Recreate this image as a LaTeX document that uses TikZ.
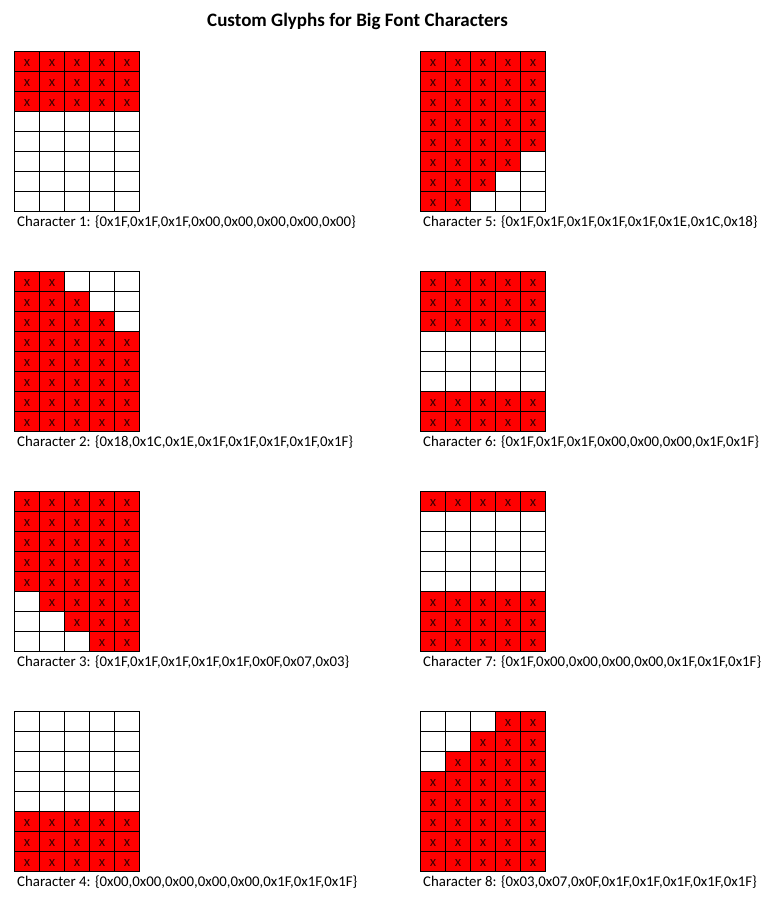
\documentclass[tikz,border=0pt]{standalone}
\usepackage{fontspec}
\setmainfont{Carlito}

\tikzset{
  cellbox/.style={draw=black, line width=0.9pt},
  xmark/.style={inner sep=0pt, text=black!75!red, font=\fontsize{14.7}{15}\selectfont},
  caption/.style={anchor=base west, inner sep=0pt, font=\fontsize{14.85}{16}\selectfont},
}

% \drawglyph{name}{left}{top}{caption}{first/last lit column of each row}
\newcommand{\drawglyph}[5]{%
  \foreach \a/\b [count=\r] in {#5} {
    \foreach \c in {1,...,5} {
      \pgfmathtruncatemacro{\lit}{and(\a>0, and(\c>=\a, \c<=\b))}
      \ifnum\lit=1
        \fill[red] ({#2+25*(\c-1)},{#3+20*(\r-1)}) rectangle ++(25,20);
        \node[xmark] (#1-\r-\c) at ({#2+25*(\c-1)+13},{#3+20*(\r-1)+12}) {x};
      \fi
    }
  }
  \foreach \r in {1,...,8} {
    \foreach \c in {1,...,5} {
      \draw[cellbox] ({#2+25*(\c-1)},{#3+20*(\r-1)}) rectangle ++(25,20);
    }
  }
  \node[caption] (#1-cap) at ({#2+3},{#3+175.5}) {#4};
}

\begin{document}
\begin{tikzpicture}[x=1pt, y=-1pt]
  \useasboundingbox (0,0) rectangle (775,916);

  \node[anchor=base, inner sep=0pt, font=\bfseries\fontsize{19}{20}\selectfont] (title) at (357.5,26) {Custom Glyphs for Big Font Characters};

  % left column
  \drawglyph{one}{14}{51}{Character 1: \{0x1F,0x1F,0x1F,0x00,0x00,0x00,0x00,0x00\}}
    {1/5,1/5,1/5,0/0,0/0,0/0,0/0,0/0}
  \drawglyph{two}{14}{271}{Character 2: \{0x18,0x1C,0x1E,0x1F,0x1F,0x1F,0x1F,0x1F\}}
    {1/2,1/3,1/4,1/5,1/5,1/5,1/5,1/5}
  \drawglyph{three}{14}{491}{Character 3: \{0x1F,0x1F,0x1F,0x1F,0x1F,0x0F,0x07,0x03\}}
    {1/5,1/5,1/5,1/5,1/5,2/5,3/5,4/5}
  \drawglyph{four}{14}{711}{Character 4: \{0x00,0x00,0x00,0x00,0x00,0x1F,0x1F,0x1F\}}
    {0/0,0/0,0/0,0/0,0/0,1/5,1/5,1/5}

  % right column
  \drawglyph{five}{420}{51}{Character 5: \{0x1F,0x1F,0x1F,0x1F,0x1F,0x1E,0x1C,0x18\}}
    {1/5,1/5,1/5,1/5,1/5,1/4,1/3,1/2}
  \drawglyph{six}{420}{271}{Character 6: \{0x1F,0x1F,0x1F,0x00,0x00,0x00,0x1F,0x1F\}}
    {1/5,1/5,1/5,0/0,0/0,0/0,1/5,1/5}
  \drawglyph{seven}{420}{491}{Character 7: \{0x1F,0x00,0x00,0x00,0x00,0x1F,0x1F,0x1F\}}
    {1/5,0/0,0/0,0/0,0/0,1/5,1/5,1/5}
  \drawglyph{eight}{420}{711}{Character 8: \{0x03,0x07,0x0F,0x1F,0x1F,0x1F,0x1F,0x1F\}}
    {4/5,3/5,2/5,1/5,1/5,1/5,1/5,1/5}
\end{tikzpicture}
\end{document}
